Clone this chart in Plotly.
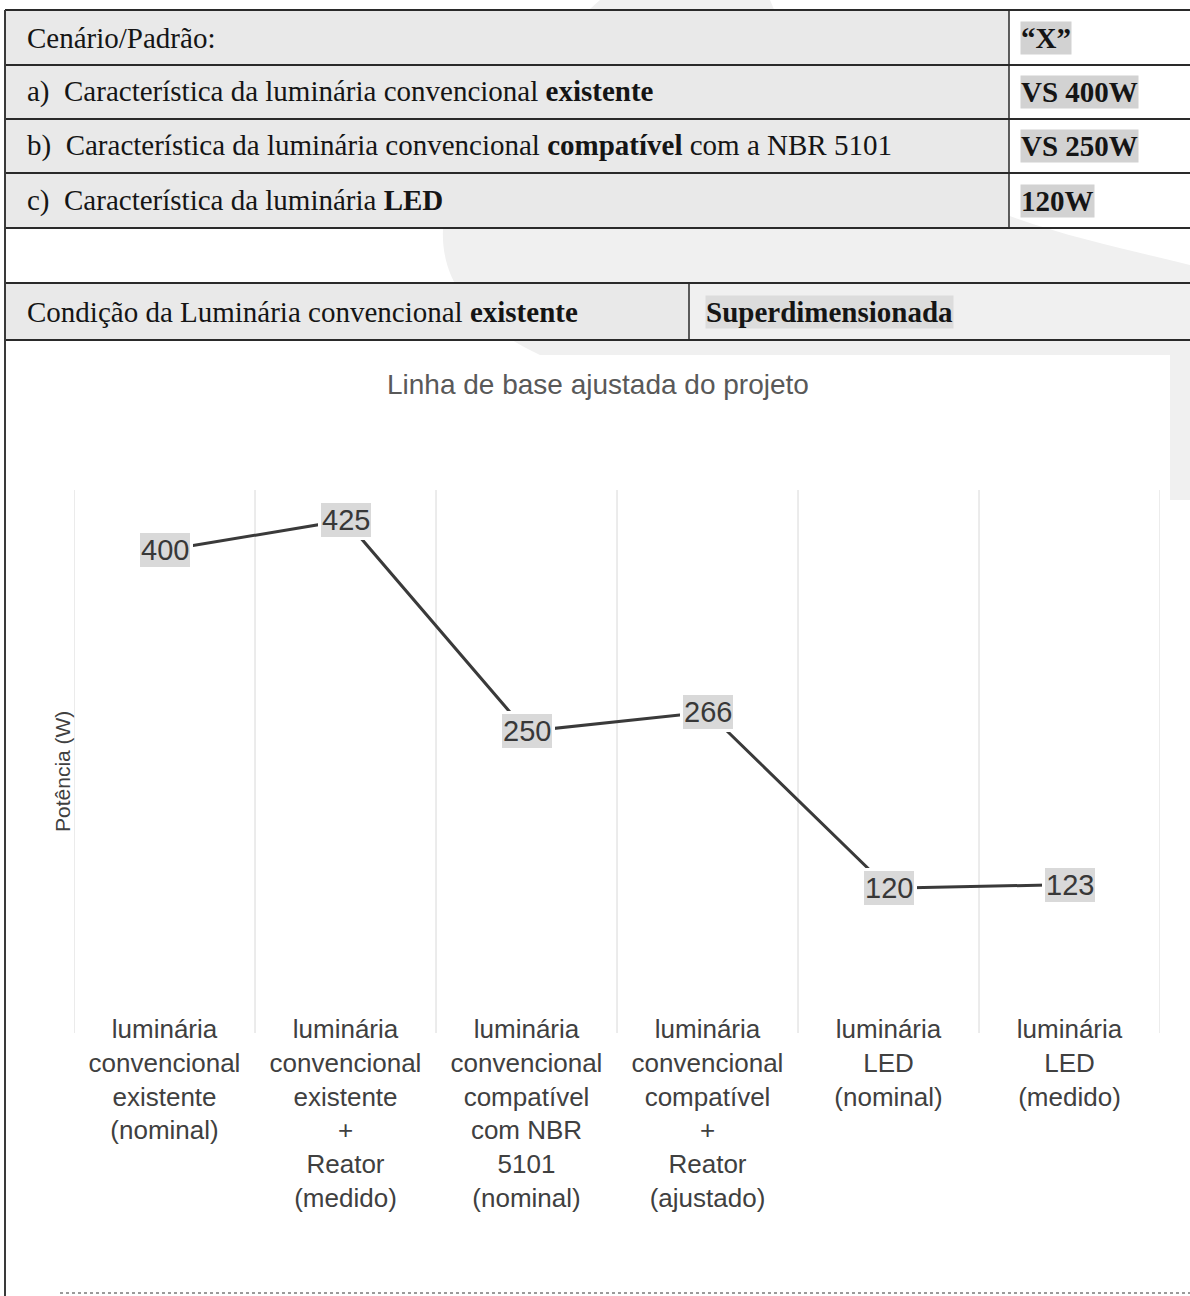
import plotly.graph_objects as go

# ---------------- data ----------------
categories = [
    "luminária<br>convencional<br>existente<br>(nominal)",
    "luminária<br>convencional<br>existente<br>+<br>Reator<br>(medido)",
    "luminária<br>convencional<br>compatível<br>com NBR<br>5101<br>(nominal)",
    "luminária<br>convencional<br>compatível<br>+<br>Reator<br>(ajustado)",
    "luminária<br>LED<br>(nominal)",
    "luminária<br>LED<br>(medido)",
]
potencia_w = [400, 425, 250, 266, 120, 123]

table_labels = [
    "Cenário/Padrão:",
    "a)  Característica da luminária convencional <b>existente</b>",
    "b)  Característica da luminária convencional <b>compatível</b> com a NBR 5101",
    "c)  Característica da luminária <b>LED</b>",
]
table_values = ["“X”", "VS 400W", "VS 250W", "120W"]
condicao_label = "Condição da Luminária convencional <b>existente</b>"
condicao_value = "Superdimensionada"

chart_title = "Linha de base ajustada do projeto"
y_title = "Potência (W)"

# ---------------- page geometry helpers ----------------
W, H = 1190, 1296


def px(x):
    return x / W


def py(y):
    return 1 - y / H


x_idx = list(range(len(categories)))
boundaries = [i - 0.5 for i in range(len(categories) + 1)]

fig = go.Figure()
fig.add_trace(go.Scatter(
    x=x_idx, y=potencia_w, mode="lines",
    line=dict(color="#3a3a3a", width=3),
    hoverinfo="skip", showlegend=False,
))

shapes = []
annotations = []

# watermark swoosh (scan background)
shapes.append(dict(
    type="path", xref="paper", yref="paper", layer="below",
    path=(f"M {px(600)} {py(0)} C {px(430)} {py(150)}, {px(380)} {py(280)}, {px(540)} {py(355)} "
          f"L {px(1170)} {py(355)} L {px(1170)} {py(500)} L {px(1190)} {py(500)} L {px(1190)} {py(265)} "
          f"C {px(1050)} {py(230)}, {px(850)} {py(200)}, {px(770)} {py(0)} Z"),
    fillcolor="#f0f0f0", line=dict(width=0),
))

# table cell fills
row_edges = [10, 65, 119, 173, 228]
for i in range(4):
    shapes.append(dict(type="rect", xref="paper", yref="paper", layer="below",
                       x0=px(5), x1=px(1009), y0=py(row_edges[i + 1]), y1=py(row_edges[i]),
                       fillcolor="#e9e9e9", line=dict(width=0)))
shapes.append(dict(type="rect", xref="paper", yref="paper", layer="below",
                   x0=px(5), x1=px(689), y0=py(340), y1=py(283),
                   fillcolor="#e9e9e9", line=dict(width=0)))

# table lines
for y in [10, 65, 119, 173, 228, 283, 340]:
    shapes.append(dict(type="line", xref="paper", yref="paper",
                       x0=px(5), x1=px(1190), y0=py(y), y1=py(y),
                       line=dict(color="#2a2a2a", width=2)))
shapes.append(dict(type="line", xref="paper", yref="paper",
                   x0=px(1009), x1=px(1009), y0=py(10), y1=py(228),
                   line=dict(color="#2a2a2a", width=1.5)))
shapes.append(dict(type="line", xref="paper", yref="paper",
                   x0=px(689), x1=px(689), y0=py(283), y1=py(340),
                   line=dict(color="#2a2a2a", width=1.5)))
# left frame border
shapes.append(dict(type="line", xref="paper", yref="paper",
                   x0=px(5), x1=px(5), y0=py(10), y1=py(1296),
                   line=dict(color="#3a3a3a", width=2)))
# bottom dotted edge
shapes.append(dict(type="line", xref="paper", yref="paper",
                   x0=px(60), x1=px(1190), y0=py(1293), y1=py(1293),
                   line=dict(color="#9a9a9a", width=2, dash="dot")))

# category separators (gridlines between categories)
for b in boundaries:
    shapes.append(dict(type="line", xref="x", yref="paper", layer="below",
                       x0=b, x1=b, y0=py(1033), y1=py(490),
                       line=dict(color="#d8d8d8", width=1)))

serif = "Liberation Serif, Times New Roman, serif"
sans = "Liberation Sans, Arial, sans-serif"

row_centers = [38, 92, 146, 201]
for lab, val, yc in zip(table_labels, table_values, row_centers):
    annotations.append(dict(xref="paper", yref="paper", x=px(25), y=py(yc),
                            xanchor="left", yanchor="middle", showarrow=False,
                            text=lab, font=dict(family=serif, size=29, color="#151515")))
    annotations.append(dict(xref="paper", yref="paper", x=px(1020), y=py(yc),
                            xanchor="left", yanchor="middle", showarrow=False,
                            text=f"<b>{val}</b>", bgcolor="#d2d2d2", borderpad=0,
                            font=dict(family=serif, size=29, color="#151515")))
annotations.append(dict(xref="paper", yref="paper", x=px(25), y=py(312),
                        xanchor="left", yanchor="middle", showarrow=False,
                        text=condicao_label, font=dict(family=serif, size=29, color="#151515")))
annotations.append(dict(xref="paper", yref="paper", x=px(705), y=py(312),
                        xanchor="left", yanchor="middle", showarrow=False,
                        text=f"<b>{condicao_value}</b>", bgcolor="#dcdcdc", borderpad=0,
                        font=dict(family=serif, size=29, color="#151515")))

# chart title and y-axis title
annotations.append(dict(xref="paper", yref="paper", x=px(598), y=py(385),
                        xanchor="center", yanchor="middle", showarrow=False,
                        text=chart_title, font=dict(family=sans, size=28, color="#595959")))
annotations.append(dict(xref="paper", yref="paper", x=px(62), y=py(772),
                        xanchor="center", yanchor="middle", showarrow=False, textangle=-90,
                        text=y_title, font=dict(family=sans, size=21, color="#404040")))

# data labels
for i, v in zip(x_idx, potencia_w):
    annotations.append(dict(xref="x", yref="y", x=i, y=v, showarrow=False,
                            xanchor="center", yanchor="middle",
                            text=str(v), bgcolor="#d9d9d9", bordercolor="white",
                            borderwidth=3, borderpad=1,
                            font=dict(family=sans, size=29, color="#383838")))

fig.update_layout(
    width=W, height=H, autosize=False,
    margin=dict(l=0, r=0, t=0, b=0),
    paper_bgcolor="white", plot_bgcolor="rgba(0,0,0,0)",
    showlegend=False,
    shapes=shapes, annotations=annotations,
    xaxis=dict(
        domain=[px(74), px(1160)], range=[-0.5, len(categories) - 0.5],
        tickmode="array", tickvals=x_idx, ticktext=categories,
        showgrid=False, zeroline=False, showline=False, ticks="",
        tickfont=dict(family=sans, size=26, color="#404040"),
        ticklabelstandoff=-22, fixedrange=True,
    ),
    yaxis=dict(
        domain=[py(1033), py(490)], range=[0, 450],
        visible=False, fixedrange=True,
    ),
)

fig.write_html(
    "out.html",
    config={"displayModeBar": False},
    post_script="document.body.style.margin='0px';",
)
